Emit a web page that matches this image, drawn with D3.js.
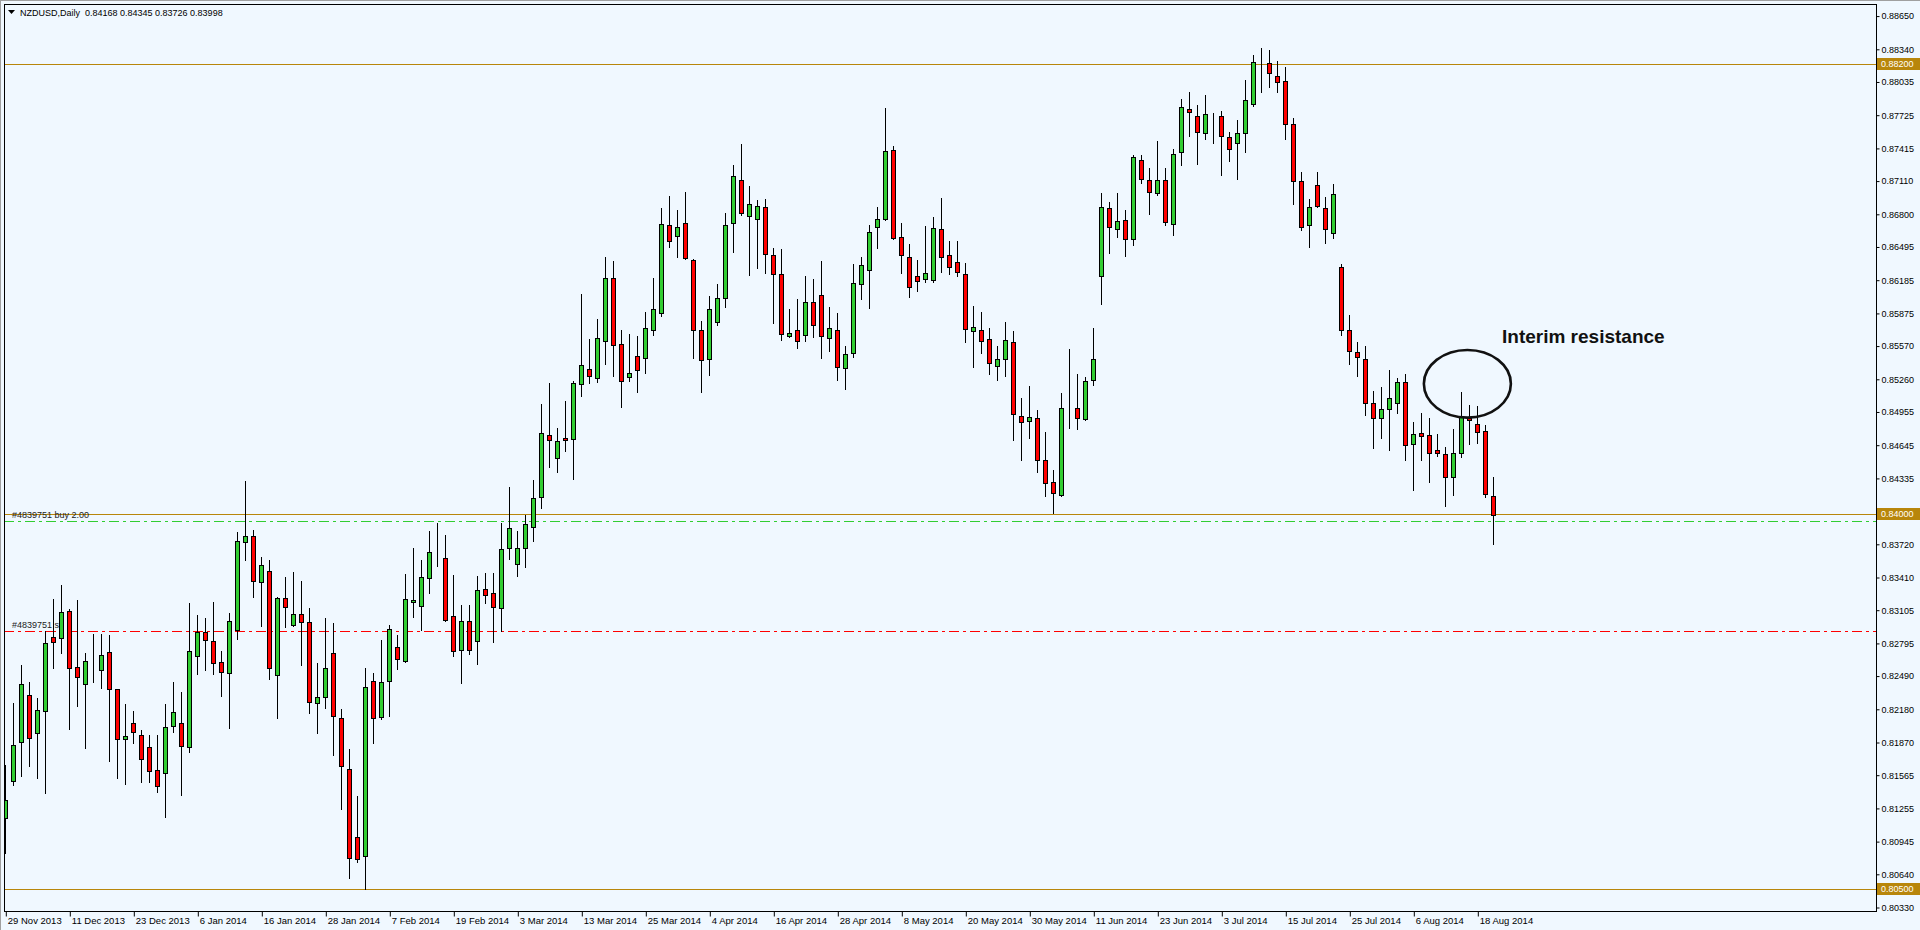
<!DOCTYPE html>
<html><head><meta charset="utf-8">
<script src="https://cdn.jsdelivr.net/npm/d3@7"></script>
<style>
html,body{margin:0;padding:0;background:#F0F8FF;overflow:hidden}
svg{display:block}
text{font-family:"Liberation Sans",Arial,sans-serif}
</style></head>
<body><svg id="c" width="1920" height="930"></svg>
<script>
const symbolTitle = "NZDUSD,Daily";
const opens = [0.81162,0.81508,0.81872,0.82310,0.81956,0.82161,0.82852,0.82843,0.83095,0.82572,0.82413,0.82578,0.82547,0.82712,0.82367,0.81900,0.82049,0.81937,0.81825,0.81611,0.81583,0.82021,0.82049,0.81825,0.82675,0.82899,0.82815,0.82618,0.82516,0.82917,0.83744,0.83794,0.83365,0.83468,0.82497,0.83216,0.82964,0.83067,0.82992,0.82236,0.82292,0.82703,0.82096,0.81620,0.80985,0.80813,0.82441,0.82105,0.82441,0.82759,0.82628,0.83178,0.83141,0.83403,0.83642,0.83589,0.83048,0.82731,0.83001,0.82815,0.83300,0.83263,0.83124,0.83690,0.83540,0.83690,0.83877,0.84157,0.84736,0.84523,0.84710,0.84700,0.85220,0.85353,0.85270,0.85620,0.86204,0.85587,0.85280,0.85474,0.85457,0.85716,0.85877,0.86696,0.86594,0.86717,0.86370,0.85716,0.85447,0.85797,0.86017,0.86717,0.87116,0.86781,0.86753,0.86865,0.86417,0.86240,0.85661,0.85717,0.85671,0.85985,0.86044,0.85643,0.85717,0.85363,0.85503,0.86147,0.86277,0.86679,0.86753,0.87397,0.86585,0.86399,0.86221,0.86193,0.86184,0.86660,0.86417,0.86352,0.86240,0.85708,0.85717,0.85632,0.85381,0.85447,0.85605,0.84915,0.84868,0.84896,0.84504,0.84299,0.84177,0.84948,0.84989,0.84887,0.85250,0.86225,0.86856,0.86660,0.86744,0.86567,0.87304,0.87117,0.86996,0.87117,0.86707,0.87385,0.87780,0.87715,0.87556,0.87727,0.87715,0.87519,0.87463,0.87556,0.87827,0.88209,0.88209,0.88088,0.88041,0.87640,0.87108,0.86697,0.87071,0.86856,0.86623,0.86305,0.85717,0.85512,0.85447,0.85036,0.84896,0.84980,0.85036,0.85232,0.84653,0.84756,0.84737,0.84597,0.84560,0.84345,0.84569,0.84903,0.84840,0.84775,0.84168];
const highs = [0.81660,0.82236,0.82593,0.82432,0.82283,0.82914,0.83209,0.83340,0.83113,0.83200,0.82703,0.82883,0.82883,0.82873,0.82370,0.82227,0.82161,0.81984,0.81943,0.81943,0.82227,0.82432,0.82338,0.83169,0.83060,0.83029,0.83178,0.82721,0.83076,0.83835,0.84311,0.83853,0.83598,0.83573,0.83231,0.83415,0.83461,0.83377,0.83123,0.82612,0.83029,0.82983,0.82180,0.81807,0.81368,0.82563,0.82516,0.82824,0.82964,0.82871,0.83440,0.83683,0.83571,0.83844,0.83919,0.83804,0.83431,0.83150,0.83150,0.83421,0.83449,0.83449,0.83920,0.84254,0.83840,0.83997,0.84320,0.85030,0.85224,0.84806,0.85056,0.85247,0.86057,0.85637,0.85824,0.86400,0.86363,0.85720,0.85684,0.85663,0.85887,0.86206,0.86860,0.86970,0.86840,0.87007,0.86384,0.85803,0.86036,0.86147,0.86813,0.87260,0.87456,0.87064,0.86931,0.86943,0.86483,0.86473,0.85913,0.86007,0.86225,0.86193,0.86361,0.85932,0.85876,0.85568,0.86333,0.86399,0.86697,0.86865,0.87789,0.87435,0.86716,0.86520,0.86371,0.86688,0.86772,0.86949,0.86548,0.86548,0.86343,0.85941,0.85885,0.85736,0.85571,0.85795,0.85707,0.85085,0.85193,0.84973,0.84768,0.84413,0.85132,0.85543,0.85309,0.85281,0.85739,0.86999,0.86912,0.86999,0.86837,0.87351,0.87351,0.87229,0.87481,0.87229,0.87407,0.87873,0.87939,0.87817,0.87911,0.87743,0.87761,0.87565,0.87677,0.88051,0.88287,0.88352,0.88333,0.88228,0.88172,0.87696,0.87192,0.86940,0.87192,0.86959,0.87080,0.86333,0.85857,0.85605,0.85568,0.85151,0.85188,0.85347,0.85269,0.85307,0.84859,0.84943,0.84899,0.84749,0.84628,0.84796,0.85141,0.85017,0.85008,0.84831,0.84345];
const lows = [0.80836,0.81473,0.81560,0.81653,0.81535,0.81396,0.82568,0.82703,0.81999,0.82213,0.81821,0.82437,0.82381,0.81700,0.81535,0.81485,0.81868,0.81499,0.81499,0.81405,0.81172,0.81965,0.81383,0.81785,0.82507,0.82544,0.82507,0.82307,0.82003,0.82833,0.83573,0.83231,0.82960,0.82465,0.82101,0.82951,0.82957,0.82596,0.82148,0.81961,0.82195,0.81756,0.81252,0.80608,0.80755,0.80503,0.81868,0.82087,0.82115,0.82559,0.82621,0.83038,0.82917,0.83263,0.83520,0.83004,0.82675,0.82422,0.82693,0.82600,0.83169,0.82811,0.82914,0.83586,0.83427,0.83507,0.83754,0.84063,0.84443,0.84394,0.84590,0.84331,0.85107,0.85230,0.85237,0.85406,0.85293,0.85003,0.85247,0.85143,0.85323,0.85677,0.85853,0.86497,0.86403,0.86383,0.85463,0.85137,0.85304,0.85770,0.85935,0.86450,0.86796,0.86236,0.86302,0.86255,0.85788,0.85624,0.85652,0.85555,0.85615,0.85652,0.85456,0.85521,0.85250,0.85167,0.85465,0.86007,0.85925,0.86483,0.86747,0.86567,0.86255,0.86031,0.86081,0.86165,0.86165,0.86264,0.86240,0.86225,0.85605,0.85372,0.85510,0.85305,0.85255,0.85293,0.84696,0.84510,0.84715,0.84398,0.84173,0.84015,0.84170,0.84808,0.84799,0.84880,0.85209,0.85965,0.86441,0.86591,0.86414,0.86516,0.87095,0.86805,0.86977,0.86697,0.86610,0.87263,0.87533,0.87272,0.87500,0.87468,0.87170,0.87300,0.87132,0.87384,0.87808,0.87939,0.87985,0.87939,0.87500,0.86893,0.86651,0.86492,0.86865,0.86529,0.86576,0.85671,0.85405,0.85293,0.84929,0.84622,0.84715,0.84603,0.84948,0.84510,0.84230,0.84510,0.84304,0.84544,0.84080,0.84183,0.84537,0.84658,0.84668,0.84159,0.83726];
const closes = [0.81333,0.81844,0.82413,0.81909,0.82171,0.82796,0.82805,0.83085,0.82563,0.82479,0.82628,0.82578,0.82684,0.82367,0.81900,0.81928,0.81971,0.81713,0.81601,0.81461,0.82012,0.82152,0.81834,0.82721,0.82899,0.82824,0.82609,0.82525,0.83001,0.83751,0.83797,0.83374,0.83524,0.82563,0.83216,0.83132,0.83067,0.82992,0.82245,0.82292,0.82563,0.82115,0.81648,0.80789,0.80780,0.82385,0.82096,0.82432,0.82927,0.82647,0.83207,0.83197,0.83412,0.83645,0.83642,0.83011,0.82721,0.83001,0.82731,0.83291,0.83244,0.83132,0.83673,0.83870,0.83690,0.83907,0.84150,0.84763,0.84690,0.84680,0.84690,0.85230,0.85390,0.85293,0.85643,0.86210,0.85576,0.85247,0.85323,0.85343,0.85737,0.85913,0.86707,0.86547,0.86680,0.86390,0.85716,0.85436,0.85913,0.86017,0.86696,0.87154,0.86816,0.86893,0.86875,0.86427,0.86240,0.85680,0.85689,0.85615,0.85985,0.85764,0.85661,0.85736,0.85372,0.85493,0.86156,0.86324,0.86632,0.86753,0.87388,0.86576,0.86417,0.86119,0.86175,0.86249,0.86669,0.86399,0.86305,0.86259,0.85727,0.85745,0.85613,0.85408,0.85447,0.85624,0.84933,0.84859,0.84905,0.84510,0.84295,0.84202,0.84989,0.84948,0.84901,0.85241,0.85447,0.86865,0.86684,0.86735,0.86567,0.87332,0.87127,0.87005,0.87117,0.86725,0.87360,0.87799,0.87752,0.87565,0.87733,0.87727,0.87528,0.87407,0.87556,0.87864,0.88219,0.88209,0.88116,0.88032,0.87640,0.87108,0.86679,0.86865,0.86875,0.86660,0.86987,0.85717,0.85521,0.85465,0.85036,0.84901,0.84980,0.85083,0.85232,0.84644,0.84752,0.84734,0.84569,0.84569,0.84345,0.84569,0.84911,0.84877,0.84771,0.84187,0.83998];
const dateLabels = ["29 Nov 2013","11 Dec 2013","23 Dec 2013","6 Jan 2014","16 Jan 2014","28 Jan 2014","7 Feb 2014","19 Feb 2014","3 Mar 2014","13 Mar 2014","25 Mar 2014","4 Apr 2014","16 Apr 2014","28 Apr 2014","8 May 2014","20 May 2014","30 May 2014","11 Jun 2014","23 Jun 2014","3 Jul 2014","15 Jul 2014","25 Jul 2014","6 Aug 2014","18 Aug 2014"];
const barsPerLabel = 8;
const priceTicks = [0.88650,0.88340,0.88035,0.87725,0.87415,0.87110,0.86800,0.86495,0.86185,0.85875,0.85570,0.85260,0.84955,0.84645,0.84335,0.83720,0.83410,0.83105,0.82795,0.82490,0.82180,0.81870,0.81565,0.81255,0.80945,0.80640,0.80330];
const hLevels = [0.88200, 0.84000, 0.80500];
const buyLevel = 0.83935, buyLabel = "#4839751 buy 2.00";
const slLevel = 0.82913, slLabel = "#4839751 sl";
const noteText = "Interim resistance";

const svg = d3.select("#c");
const P = {l:4, t:4, r:1876, b:911};
const n = opens.length;
const x = d3.scaleLinear().domain([0, n-1]).range([5.3, 5.3 + 8*(n-1)]);
const y = d3.scaleLinear().domain([0.805, 0.882]).range([889.3, 64.3]);

const defs = svg.append("defs");
defs.append("clipPath").attr("id","pc").append("rect")
  .attr("x",P.l+1).attr("y",P.t+1).attr("width",P.r-P.l-1).attr("height",P.b-P.t-1);

svg.append("rect").attr("width",1920).attr("height",930).attr("fill","#F0F8FF");
// outer window edges
svg.append("line").attr("x1",0).attr("x2",1920).attr("y1",0.5).attr("y2",0.5).attr("stroke","#a0a0a0");
svg.append("line").attr("x1",0.5).attr("x2",0.5).attr("y1",0).attr("y2",930).attr("stroke","#a0a0a0");

const gPlot = svg.append("g").attr("clip-path","url(#pc)");
const gold = "#B8860B";

// horizontal levels
gPlot.selectAll("line.lvl").data(hLevels).join("line").attr("class","lvl")
  .attr("x1",P.l).attr("x2",P.r)
  .attr("y1",d=>Math.round(y(d))+0.5).attr("y2",d=>Math.round(y(d))+0.5)
  .attr("stroke",gold).attr("stroke-width",1);

// order lines
gPlot.append("line").attr("x1",P.l).attr("x2",P.r)
  .attr("y1",Math.round(y(buyLevel))+0.5).attr("y2",Math.round(y(buyLevel))+0.5)
  .attr("stroke","#32CD32").attr("stroke-dasharray","10,4,3,4");
gPlot.append("line").attr("x1",P.l).attr("x2",P.r)
  .attr("y1",Math.round(y(slLevel))+0.5).attr("y2",Math.round(y(slLevel))+0.5)
  .attr("stroke","#FF0000").attr("stroke-dasharray","10,4,3,4");
gPlot.append("text").attr("x",12).attr("y",Math.round(y(buyLevel))-3)
  .attr("font-size",9).attr("fill","#222").text(buyLabel);
gPlot.append("text").attr("x",12).attr("y",Math.round(y(slLevel))-3)
  .attr("font-size",9).attr("fill","#222").text(slLabel);

// candles
const idx = d3.range(n);
const gC = gPlot.append("g");
gC.selectAll("line.wick").data(idx).join("line").attr("class","wick")
  .attr("x1",i=>Math.round(x(i))+0.5).attr("x2",i=>Math.round(x(i))+0.5)
  .attr("y1",i=>Math.round(y(highs[i]))).attr("y2",i=>Math.round(y(lows[i]))+1)
  .attr("stroke","#000").attr("stroke-width",1);
gC.selectAll("rect.body").data(idx).join("rect").attr("class","body")
  .attr("x",i=>Math.round(x(i))-2+0.5)
  .attr("width",4)
  .attr("y",i=>Math.round(y(Math.max(opens[i],closes[i])))+0.5)
  .attr("height",i=>Math.max(0,Math.round(y(Math.min(opens[i],closes[i])))-Math.round(y(Math.max(opens[i],closes[i])))))
  .attr("fill",i=>closes[i]>opens[i]?"#32CD32":(closes[i]<opens[i]?"#FF0000":"#000"))
  .attr("stroke","#000").attr("stroke-width",1);

// annotation
gPlot.append("ellipse").attr("cx",x(182.76)).attr("cy",y(0.85218))
  .attr("rx",43.5).attr("ry",33.8).attr("fill","none").attr("stroke","#111").attr("stroke-width",2.6);
gPlot.append("text").attr("x",1502).attr("y",343).attr("font-size",19).attr("font-weight","bold")
  .attr("fill","#111").text(noteText);

// frame
svg.append("rect").attr("x",P.l+0.5).attr("y",P.t+0.5).attr("width",P.r-P.l).attr("height",P.b-P.t)
  .attr("fill","none").attr("stroke","#000");

// right axis
const yAxis = d3.axisRight(y).tickValues(priceTicks).tickSize(3).tickSizeOuter(0)
  .tickFormat(d=>d.toFixed(5));
const gy = svg.append("g").attr("transform",`translate(${P.r+0.5},0)`).call(yAxis);
gy.select(".domain").remove();
gy.selectAll(".tick line").attr("stroke","#000");
gy.selectAll(".tick text").attr("x",5).attr("font-size",9).attr("fill","#000")
  .attr("font-family","Liberation Sans, Arial, sans-serif");

// level boxes
const gb = svg.append("g");
gb.selectAll("rect").data(hLevels).join("rect")
  .attr("x",P.r+1).attr("width",1920-P.r-1).attr("y",d=>Math.round(y(d))-6).attr("height",12).attr("fill",gold);
gb.selectAll("text").data(hLevels).join("text")
  .attr("x",P.r+5).attr("y",d=>Math.round(y(d))).attr("dy","0.34em")
  .attr("font-size",9).attr("fill","#fff").text(d=>d.toFixed(5));

// bottom axis
const tickIdx = dateLabels.map((d,k)=>k*barsPerLabel);
const xAxis = d3.axisBottom(x).tickValues(tickIdx).tickSize(5).tickSizeOuter(0)
  .tickFormat((d,k)=>dateLabels[k]);
const gx = svg.append("g").attr("transform",`translate(0,${P.b+0.5})`).call(xAxis);
gx.select(".domain").remove();
gx.selectAll(".tick line").attr("stroke","#000").attr("transform","translate(0.5,0)");
gx.selectAll(".tick text").attr("text-anchor","start").attr("x",2).attr("y",6).attr("dy","0.71em")
  .attr("font-size",9.5).attr("fill","#000").attr("font-family","Liberation Sans, Arial, sans-serif");

// header
svg.append("path").attr("d","M8,10 L15,10 L11.5,14 Z").attr("fill","#000");
svg.append("text").attr("x",20).attr("y",16).attr("font-size",9).attr("fill","#000")
  .text(`${symbolTitle}  ${opens[n-1].toFixed(5)} ${highs[n-1].toFixed(5)} ${lows[n-1].toFixed(5)} ${closes[n-1].toFixed(5)}`)
  .attr("xml:space","preserve").style("white-space","pre");
</script>
</body></html>
